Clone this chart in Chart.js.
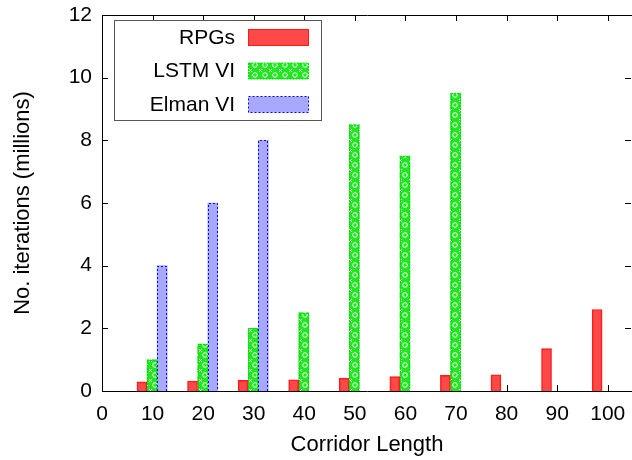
<!DOCTYPE html>
<html>
<head>
<meta charset="utf-8">
<script src="https://cdn.jsdelivr.net/npm/chart.js@4.4.1/dist/chart.umd.min.js"></script>
<style>
html, body { margin: 0; padding: 0; background: #fff; }
#wrap { width: 632px; height: 460px; }
</style>
</head>
<body>
<div id="wrap"><canvas id="barChart" width="632" height="460"></canvas></div>
<script>
const lengths = [10, 20, 30, 40, 50, 60, 70, 80, 90, 100];
const rpgs = [0.29, 0.32, 0.34, 0.36, 0.41, 0.46, 0.5, 0.52, 1.35, 2.6];
const lstmVI = [1.0, 1.5, 2.0, 2.5, 8.5, 7.5, 9.5];
const elmanVI = [4, 6, 8];
const xTicks = [0, 10, 20, 30, 40, 50, 60, 70, 80, 90, 100];
const yTicks = [0, 2, 4, 6, 8, 10, 12];
const seriesNames = ['RPGs', 'LSTM VI', 'Elman VI'];

const FONT = '"Liberation Sans", Arial, Helvetica, sans-serif';

// green cross-hatch fill like gnuplot's pattern
function makeGreenPattern() {
    const tile = document.createElement('canvas');
    tile.width = 10;
    tile.height = 10;
    const t = tile.getContext('2d');
    t.fillStyle = '#1fe81f';
    t.fillRect(0, 0, 10, 10);
    t.strokeStyle = '#ffffff';
    t.lineWidth = 1;
    t.beginPath();
    t.arc(5, 5, 2.3, 0, Math.PI * 2);
    t.stroke();
    t.fillStyle = '#ffffff';
    t.fillRect(0, 0, 1, 1);
    t.fillRect(1, 1, 1, 1);
    t.fillRect(9, 1, 1, 1);
    t.fillRect(1, 9, 1, 1);
    t.fillRect(9, 9, 1, 1);
    return t.createPattern(tile, 'repeat');
}

const ctx = document.getElementById('barChart').getContext('2d');
const greenPattern = makeGreenPattern();

// bar offsets (in x units) inside each cluster
function toPoints(values, offset) {
    return values.map((v, i) => ({ x: lengths[i] + offset, y: v }));
}

const styles = [
    { fill: 'rgba(255, 40, 40, 0.85)', line: '#ff1a1a', dash: null },
    { fill: greenPattern, line: '#00dd00', dash: [2, 1] },
    { fill: '#a8a8ff', line: '#0000ff', dash: [2, 2] }
];

const framePlugin = {
    id: 'frame',
    beforeDatasetsDraw(chart) {
        const c = chart.ctx;
        const a = chart.chartArea;
        const xs = chart.scales.x;
        const ys = chart.scales.y;
        c.save();
        c.strokeStyle = '#000';
        c.lineWidth = 1;
        c.beginPath();
        xTicks.forEach(v => {
            const px = Math.round(xs.getPixelForValue(v)) + 0.5;
            c.moveTo(px, a.bottom);
            c.lineTo(px, a.bottom - 6);
            c.moveTo(px, a.top);
            c.lineTo(px, a.top + 6);
        });
        yTicks.forEach(v => {
            const py = Math.round(ys.getPixelForValue(v)) + 0.5;
            c.moveTo(a.left, py);
            c.lineTo(a.left + 6, py);
            c.moveTo(a.right - 1, py);
            c.lineTo(a.right - 7, py);
        });
        c.stroke();
        c.restore();
    },
    afterDatasetsDraw(chart) {
        const c = chart.ctx;
        const a = chart.chartArea;
        c.save();
        chart.data.datasets.forEach((ds, di) => {
            const st = styles[di];
            if (!st.dash) return;
            const meta = chart.getDatasetMeta(di);
            c.strokeStyle = st.line;
            c.lineWidth = 1;
            c.setLineDash(st.dash);
            meta.data.forEach(bar => {
                const p = bar.getProps(['x', 'y', 'base', 'width'], true);
                const l = Math.round(p.x - p.width / 2) + 0.5;
                const r = Math.round(p.x + p.width / 2) - 0.5;
                const top = Math.round(p.y) + 0.5;
                c.beginPath();
                c.moveTo(l, p.base);
                c.lineTo(l, top);
                c.lineTo(r, top);
                c.lineTo(r, p.base);
                c.stroke();
            });
        });
        c.setLineDash([]);
        c.strokeStyle = '#000';
        c.lineWidth = 1;
        c.beginPath();
        c.moveTo(a.left + 0.5, a.top + 0.5);
        c.lineTo(a.right + 0.5, a.top + 0.5);
        c.moveTo(a.left + 0.5, a.top);
        c.lineTo(a.left + 0.5, a.bottom + 0.5);
        c.lineTo(a.right + 0.5, a.bottom + 0.5);
        c.lineTo(a.right + 0.5, a.top);
        c.stroke();

        // legend box
        const bx = 114.5, by = 20.5, bw = 207, bh = 100;
        c.fillStyle = '#fff';
        c.fillRect(bx, by, bw, bh);
        c.strokeStyle = '#555';
        c.strokeRect(bx, by, bw, bh);
        const rows = [37, 70.5, 104];
        c.font = '21px ' + FONT;
        c.textAlign = 'right';
        c.textBaseline = 'middle';
        seriesNames.forEach((name, i) => {
            const st = styles[i];
            c.fillStyle = '#000';
            c.fillText(name, 235, rows[i] + 1);
            const sx = 248.5, sy = rows[i] - 8 + 0.5, sw = 60, sh = 16;
            c.fillStyle = st.fill;
            c.fillRect(sx, sy, sw, sh);
            c.strokeStyle = st.line;
            c.setLineDash(st.dash || []);
            c.strokeRect(sx, sy, sw, sh);
            c.setLineDash([]);
        });
        c.restore();
    }
};

new Chart(ctx, {
    type: 'bar',
    data: {
        datasets: [{
            label: seriesNames[0],
            data: toPoints(rpgs, -2.1),
            backgroundColor: styles[0].fill,
            borderColor: styles[0].line,
            borderWidth: 1
        }, {
            label: seriesNames[1],
            data: toPoints(lstmVI, -0.1),
            backgroundColor: styles[1].fill,
            borderWidth: 0
        }, {
            label: seriesNames[2],
            data: toPoints(elmanVI, 1.9),
            backgroundColor: styles[2].fill,
            borderWidth: 0
        }]
    },
    options: {
        responsive: false,
        animation: false,
        devicePixelRatio: 1,
        layout: { padding: { left: 0, right: 0, top: 15, bottom: 0 } },
        datasets: { bar: { grouped: false, barThickness: 10 } },
        plugins: {
            legend: { display: false },
            tooltip: { enabled: false }
        },
        scales: {
            x: {
                type: 'linear',
                min: 0,
                max: 104.8,
                offset: false,
                grid: { display: false, drawTicks: false },
                border: { display: false },
                afterBuildTicks: scale => { scale.ticks = xTicks.map(v => ({ value: v })); },
                afterFit: scale => {
                    scale.height = 69;
                    scale.paddingLeft = 0;
                    scale.paddingRight = 0;
                },
                ticks: {
                    color: '#000',
                    padding: 11,
                    maxRotation: 0,
                    autoSkip: false,
                    font: { family: FONT, size: 21 }
                },
                title: {
                    display: true,
                    text: 'Corridor Length',
                    color: '#000',
                    padding: { top: 0, bottom: 2 },
                    font: { family: FONT, size: 22 }
                }
            },
            y: {
                min: 0,
                max: 12,
                grid: { display: false, drawTicks: false },
                border: { display: false },
                afterBuildTicks: scale => { scale.ticks = yTicks.map(v => ({ value: v })); },
                afterFit: scale => {
                    scale.width = 102;
                    scale.paddingTop = 0;
                    scale.paddingBottom = 0;
                },
                ticks: {
                    color: '#000',
                    padding: 10,
                    font: { family: FONT, size: 21 }
                },
                title: {
                    display: true,
                    text: 'No. iterations (millions)',
                    color: '#000',
                    padding: { top: 10, bottom: 0 },
                    font: { family: FONT, size: 22 }
                }
            }
        }
    },
    plugins: [framePlugin]
});
</script>
</body>
</html>
